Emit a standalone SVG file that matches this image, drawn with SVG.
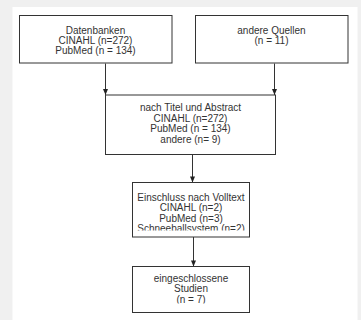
<svg xmlns="http://www.w3.org/2000/svg" width="361" height="320" viewBox="0 0 361 320">
<style>
.box{fill:#fff;stroke:#333;stroke-width:1}
.t{font-family:"Liberation Sans",Arial,sans-serif;font-size:10px;fill:#333;text-anchor:middle}
.c{stroke:#333;stroke-width:1;fill:none}
</style>
<defs>
<marker id="ah" markerWidth="5" markerHeight="6" refX="2.5" refY="6" orient="auto-start-reverse" markerUnits="userSpaceOnUse" viewBox="0 0 5 6">
<path d="M0,0 L5,0 L2.5,6 Z" fill="#222"/>
</marker>
<clipPath id="clip3"><rect x="132" y="182.5" width="117.5" height="48"/></clipPath>
<clipPath id="clip4"><rect x="132" y="266.5" width="117.5" height="37"/></clipPath>
</defs>
<rect x="0" y="0" width="361" height="320" fill="#f0f0f0"/>
<rect x="12.5" y="7" width="345" height="320" fill="#fff"/>
<g id="connectors">
<line class="c" x1="105.5" y1="63.5" x2="105.5" y2="95"/>
<path d="M103,89 L108,89 L105.5,95 Z" fill="#222"/>
<line class="c" x1="274.5" y1="63.5" x2="274.5" y2="95"/>
<path d="M272,89 L277,89 L274.5,95 Z" fill="#222"/>
<line class="c" x1="192.5" y1="154.5" x2="192.5" y2="182.5"/>
<path d="M190,176.5 L195,176.5 L192.5,182.5 Z" fill="#222"/>
<line class="c" x1="193.5" y1="237" x2="193.5" y2="266.5"/>
<path d="M191,260.5 L196,260.5 L193.5,266.5 Z" fill="#222"/>
</g>
<g id="n1">
<rect class="box" x="19.5" y="15.5" width="152.5" height="47.5"/>
<text class="t" x="95.5" y="34">Datenbanken</text>
<text class="t" x="95.5" y="44">CINAHL (n=272)</text>
<text class="t" x="95.5" y="54">PubMed (n = 134)</text>
</g>
<g id="n2">
<rect class="box" x="195.5" y="15.5" width="152.5" height="47.5"/>
<text class="t" x="271.5" y="34">andere Quellen</text>
<text class="t" x="271.5" y="44">(n = 11)</text>
</g>
<g id="n3">
<rect class="box" x="105.5" y="95" width="170" height="59.5"/>
<text class="t" x="190.5" y="111">nach Titel und Abstract</text>
<text class="t" x="190.5" y="121.5">CINAHL (n=272)</text>
<text class="t" x="190.5" y="132">PubMed (n = 134)</text>
<text class="t" x="190.5" y="142.5">andere (n= 9)</text>
</g>
<g id="n4">
<rect class="box" x="132.5" y="182.5" width="117" height="54.5"/>
<g clip-path="url(#clip3)">
<text class="t" x="191" y="200.5">Einschluss nach Volltext</text>
<text class="t" x="191" y="211">CINAHL (n=2)</text>
<text class="t" x="191" y="221.5">PubMed (n=3)</text>
<text class="t" x="191" y="232">Schneeballsystem (n=2)</text>
</g>
</g>
<g id="n5">
<rect class="box" x="132.5" y="266.5" width="117" height="46"/>
<g clip-path="url(#clip4)">
<text class="t" x="191" y="281.5">eingeschlossene</text>
<text class="t" x="191" y="292">Studien</text>
<text class="t" x="191" y="302.5">(n = 7)</text>
</g>
</g>
</svg>
